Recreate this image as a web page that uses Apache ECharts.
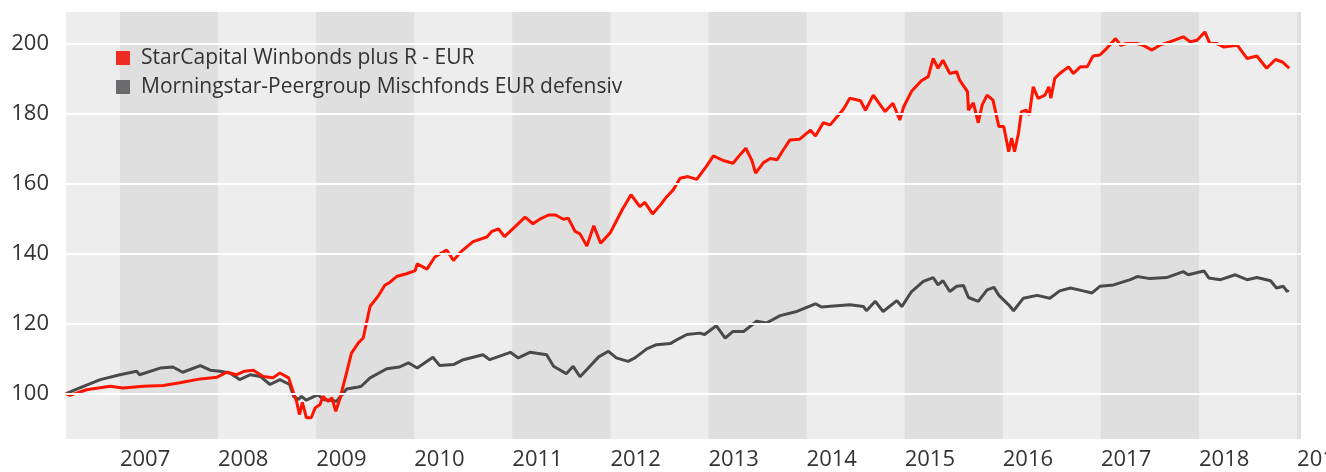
<html lang="de">
<head>
    <meta charset="UTF-8">
    <title>StarCapital Winbonds plus R - EUR</title>
    <script src="https://cdn.jsdelivr.net/npm/echarts@6/dist/echarts.min.js"></script>
    <style>
        body { margin: 0; background: #fff; }
        #chart { width: 1326px; height: 472px; }
    </style>
</head>
<body>
<div id="chart"></div>
<script>
    // Zeitachse in Dezimaljahren, Werte indexiert auf 100
    var xMin = 2006.45, xMax = 2019.04;
    var yMin = 87, yMax = 209.2;

    var fondsName = 'StarCapital Winbonds plus R - EUR';
    var peerName = 'Morningstar-Peergroup Mischfonds EUR defensiv';

    // dunkle Jahresbänder (ungerade Jahre)
    var bandYears = [2007, 2009, 2011, 2013, 2015, 2017, 2019];

    var fondsData = [
        [2006.45, 100.0], [2006.49, 99.5], [2006.66, 101.1], [2006.90, 102.1], [2007.03, 101.6],
        [2007.24, 102.1], [2007.44, 102.3], [2007.61, 103.1], [2007.82, 104.2], [2007.99, 104.7],
        [2008.09, 106.1], [2008.19, 105.4], [2008.27, 106.4], [2008.36, 106.7], [2008.46, 104.9],
        [2008.56, 104.5], [2008.63, 105.9], [2008.72, 104.5], [2008.77, 100.2], [2008.80, 97.8],
        [2008.83, 94.0], [2008.86, 97.5], [2008.90, 93.1], [2008.95, 93.1], [2008.99, 95.9],
        [2009.04, 96.9], [2009.07, 99.2], [2009.12, 97.8], [2009.16, 98.8], [2009.20, 94.9],
        [2009.24, 98.3], [2009.31, 105.9], [2009.36, 111.6], [2009.43, 114.5], [2009.48, 115.9],
        [2009.55, 125.0], [2009.63, 127.8], [2009.70, 131.0], [2009.75, 131.8], [2009.82, 133.5],
        [2009.92, 134.3], [2010.01, 135.2], [2010.03, 137.1], [2010.13, 135.6], [2010.21, 139.1],
        [2010.33, 141.1], [2010.40, 138.1], [2010.48, 140.7], [2010.60, 143.5], [2010.74, 144.8],
        [2010.79, 146.4], [2010.86, 147.1], [2010.92, 144.9], [2011.01, 147.3], [2011.13, 150.5],
        [2011.21, 148.6], [2011.28, 149.9], [2011.37, 151.1], [2011.44, 151.1], [2011.52, 149.9],
        [2011.57, 150.2], [2011.64, 146.4], [2011.69, 145.7], [2011.76, 142.2], [2011.83, 148.0],
        [2011.90, 143.0], [2012.00, 146.1], [2012.12, 152.6], [2012.21, 156.9], [2012.30, 153.5],
        [2012.35, 154.7], [2012.43, 151.4], [2012.51, 154.0], [2012.57, 156.2], [2012.64, 158.3],
        [2012.71, 161.6], [2012.79, 162.1], [2012.88, 161.3], [2012.98, 165.1], [2013.05, 168.0],
        [2013.15, 166.7], [2013.25, 165.9], [2013.32, 168.3], [2013.38, 170.2], [2013.44, 166.9],
        [2013.48, 163.1], [2013.56, 166.1], [2013.63, 167.3], [2013.70, 166.9], [2013.75, 169.2],
        [2013.83, 172.6], [2013.93, 172.8], [2014.04, 175.4], [2014.09, 173.7], [2014.17, 177.5],
        [2014.24, 176.9], [2014.31, 179.2], [2014.38, 181.6], [2014.44, 184.5], [2014.55, 183.8],
        [2014.60, 181.1], [2014.68, 185.4], [2014.80, 180.7], [2014.88, 183.1], [2014.95, 178.3],
        [2014.99, 182.1], [2015.07, 186.5], [2015.17, 189.5], [2015.24, 190.7], [2015.29, 195.9],
        [2015.34, 193.1], [2015.39, 195.4], [2015.46, 191.6], [2015.53, 192.1], [2015.56, 189.7],
        [2015.64, 186.4], [2015.65, 181.1], [2015.70, 183.2], [2015.75, 177.5], [2015.79, 182.6],
        [2015.84, 185.4], [2015.90, 184.0], [2015.96, 176.4], [2016.01, 176.4], [2016.06, 169.2],
        [2016.09, 173.1], [2016.12, 169.2], [2016.16, 174.5], [2016.19, 180.7], [2016.24, 181.1],
        [2016.27, 179.7], [2016.31, 187.8], [2016.36, 184.5], [2016.43, 185.4], [2016.47, 187.8],
        [2016.49, 184.5], [2016.53, 190.2], [2016.58, 191.6], [2016.67, 193.5], [2016.72, 191.6],
        [2016.79, 193.5], [2016.86, 193.5], [2016.92, 196.6], [2016.99, 196.9], [2017.06, 198.8],
        [2017.15, 201.6], [2017.20, 199.7], [2017.26, 200.2], [2017.37, 200.2], [2017.43, 199.7],
        [2017.52, 198.3], [2017.60, 199.7], [2017.71, 200.7], [2017.84, 202.1], [2017.91, 200.7],
        [2017.98, 201.1], [2018.06, 203.5], [2018.11, 200.2], [2018.18, 200.2], [2018.25, 199.2],
        [2018.39, 199.7], [2018.49, 195.9], [2018.59, 196.6], [2018.69, 193.1], [2018.78, 195.6],
        [2018.85, 194.9], [2018.92, 193.1]
    ];

    var peerData = [
        [2006.45, 100.0], [2006.59, 101.6], [2006.80, 104.0], [2007.00, 105.4], [2007.17, 106.4],
        [2007.20, 105.4], [2007.41, 107.3], [2007.54, 107.6], [2007.64, 106.1], [2007.82, 108.0],
        [2007.92, 106.7], [2008.02, 106.4], [2008.12, 105.9], [2008.22, 104.0], [2008.33, 105.4],
        [2008.43, 104.9], [2008.53, 102.6], [2008.63, 104.0], [2008.73, 102.6], [2008.77, 99.2],
        [2008.82, 98.3], [2008.85, 99.2], [2008.90, 98.1], [2009.02, 99.7], [2009.07, 98.3],
        [2009.21, 97.8], [2009.31, 101.3], [2009.43, 101.9], [2009.46, 102.1], [2009.55, 104.5],
        [2009.72, 107.1], [2009.85, 107.6], [2009.94, 108.8], [2010.03, 107.3], [2010.19, 110.4],
        [2010.26, 108.0], [2010.40, 108.3], [2010.50, 109.7], [2010.70, 111.1], [2010.77, 109.7],
        [2010.98, 111.8], [2011.06, 110.2], [2011.18, 111.8], [2011.35, 111.1], [2011.42, 107.8],
        [2011.55, 105.7], [2011.62, 107.8], [2011.69, 104.8], [2011.76, 106.9], [2011.88, 110.5],
        [2011.98, 112.1], [2012.06, 110.2], [2012.18, 109.2], [2012.25, 110.2], [2012.37, 112.8],
        [2012.47, 114.0], [2012.61, 114.3], [2012.69, 115.6], [2012.78, 116.9], [2012.91, 117.3],
        [2012.96, 116.9], [2013.08, 119.4], [2013.17, 115.9], [2013.25, 117.8], [2013.36, 117.8],
        [2013.49, 120.7], [2013.59, 120.2], [2013.73, 122.3], [2013.90, 123.5], [2014.09, 125.7],
        [2014.15, 124.8], [2014.44, 125.4], [2014.58, 124.9], [2014.61, 123.7], [2014.70, 126.4],
        [2014.78, 123.5], [2014.92, 126.6], [2014.97, 124.9], [2015.07, 129.2], [2015.19, 132.1],
        [2015.29, 133.2], [2015.34, 131.1], [2015.39, 132.3], [2015.46, 129.2], [2015.53, 130.7],
        [2015.60, 130.9], [2015.65, 127.5], [2015.75, 126.4], [2015.84, 129.7], [2015.91, 130.4],
        [2015.96, 128.1], [2016.06, 125.4], [2016.11, 123.7], [2016.21, 127.3], [2016.35, 128.1],
        [2016.48, 127.3], [2016.58, 129.4], [2016.69, 130.2], [2016.82, 129.4], [2016.91, 128.8],
        [2016.99, 130.7], [2017.13, 131.1], [2017.30, 132.6], [2017.37, 133.5], [2017.50, 132.9],
        [2017.67, 133.2], [2017.84, 134.9], [2017.89, 134.0], [2018.05, 135.1], [2018.10, 133.1],
        [2018.22, 132.6], [2018.37, 134.0], [2018.49, 132.6], [2018.59, 133.2], [2018.73, 132.3],
        [2018.79, 130.2], [2018.86, 130.7], [2018.90, 129.2], [2018.91, 129.7]
    ];

    var gridValues = [100, 120, 140, 160, 180, 200];

    var bands = bandYears.map(function (y) {
        return [{ xAxis: y }, { xAxis: Math.min(y + 1, xMax) }];
    });
    var gridLines = gridValues.map(function (v) {
        return { yAxis: v };
    });

    var chart = echarts.init(document.getElementById('chart'));
    var font = '"Open Sans", "Noto Sans", sans-serif';

    chart.setOption({
        animation: false,
        textStyle: { fontFamily: font },
        grid: {
            left: 66, right: 25, top: 12, bottom: 33,
            outerBoundsMode: 'none',
            containLabel: false,
            show: true,
            backgroundColor: '#ededed',
            borderWidth: 0
        },
        legend: {
            data: [fondsName, peerName],
            orient: 'vertical',
            left: 116,
            top: 47,
            padding: 0,
            itemGap: 7,
            itemWidth: 14,
            itemHeight: 14,
            icon: 'rect',
            textStyle: {
                fontFamily: font,
                fontSize: 21,
                color: '#333',
                lineHeight: 22,
                padding: [0, 0, 0, 6]
            }
        },
        xAxis: {
            type: 'value',
            min: xMin,
            max: xMax,
            minInterval: 1,
            maxInterval: 1,
            axisLine: { show: false },
            axisTick: { show: false },
            splitLine: { show: false },
            axisLabel: {
                showMinLabel: false,
                showMaxLabel: false,
                align: 'left',
                margin: 10,
                fontSize: 22,
                color: '#333',
                fontFamily: font,
                formatter: function (v) { return String(Math.round(v)); }
            }
        },
        yAxis: {
            type: 'value',
            min: yMin,
            max: yMax,
            minInterval: 20,
            maxInterval: 20,
            axisLine: { show: false },
            axisTick: { show: false },
            splitLine: { show: false },
            axisLabel: {
                showMinLabel: false,
                showMaxLabel: false,
                margin: 17,
                fontSize: 22,
                color: '#333',
                fontFamily: font
            }
        },
        series: [
            {
                // Jahresbänder
                type: 'line',
                data: [],
                silent: true,
                z: 1,
                markArea: {
                    silent: true,
                    itemStyle: { color: '#dfdfdf' },
                    data: bands
                }
            },
            {
                // Gitterlinien
                type: 'line',
                data: [],
                silent: true,
                z: 1,
                markLine: {
                    silent: true,
                    symbol: 'none',
                    label: { show: false },
                    lineStyle: { color: '#ffffff', width: 2, type: 'solid' },
                    data: gridLines
                }
            },
            {
                name: peerName,
                type: 'line',
                data: peerData,
                showSymbol: false,
                z: 3,
                itemStyle: { color: '#6b6b6e' },
                lineStyle: { color: '#4a4a4a', width: 3 }
            },
            {
                name: fondsName,
                type: 'line',
                data: fondsData,
                showSymbol: false,
                z: 4,
                itemStyle: { color: '#ee2c24' },
                lineStyle: { color: '#ff1400', width: 3 }
            }
        ]
    });
</script>
</body>
</html>
